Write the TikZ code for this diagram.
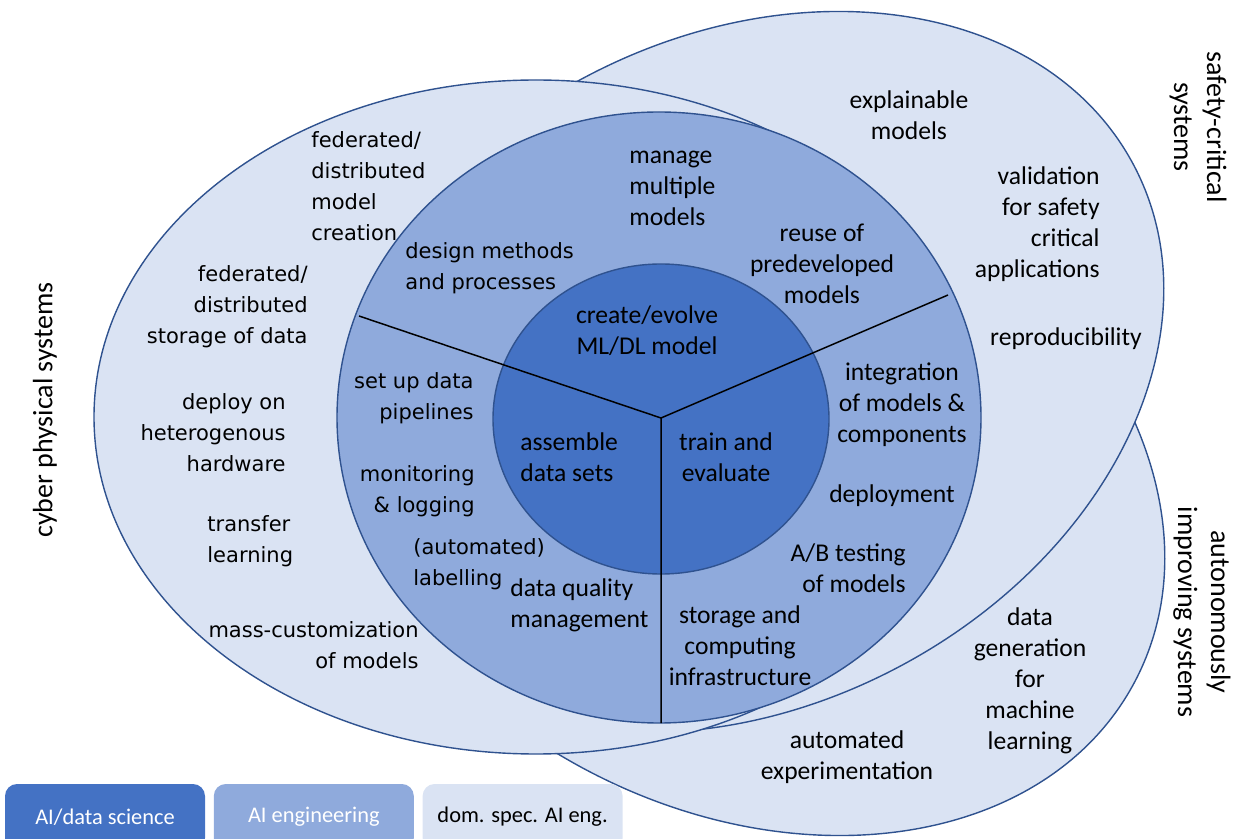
\documentclass[tikz,border=0pt]{standalone}
\usepackage{fontspec}
\setmainfont{Carlito}
\newfontfamily\widefont{DejaVu Sans}
\usetikzlibrary{positioning}

\definecolor{dsblue}{HTML}{4472C4}
\definecolor{engblue}{HTML}{8FAADC}
\definecolor{domblue}{HTML}{DAE3F3}
\definecolor{rimblue}{HTML}{2F528F}

\begin{document}
\begin{tikzpicture}[x=0.5pt,y=-0.5pt]
\tikzstyle{zone}=[draw=rimblue,line width=0.7pt]
\tikzstyle{txt}=[inner sep=0pt,align=center,font=\fontsize{12.8}{15.5}\selectfont]
\tikzstyle{wtxt}=[inner sep=0pt,align=center,font=\widefont\fontsize{10.5}{15.5}\selectfont]
\tikzstyle{side}=[inner sep=0pt,align=center,font=\fontsize{14}{16.5}\selectfont]
\tikzstyle{legbox}=[rounded corners=6pt,minimum width=100pt,minimum height=33pt,
  inner sep=0pt,font=\fontsize{11.2}{13}\selectfont]

\useasboundingbox (0,0) rectangle (1238,839);
\clip (0,0) rectangle (1238,839);

%% Domain specific ellipses
\draw[zone,fill=domblue,rotate around={-27.8:(743,475)}] (743,475)
    ellipse [x radius=221.5pt,y radius=167pt];
\draw[zone,fill=domblue,rotate around={27.8:(742,372)}] (742,372)
    ellipse [x radius=221.5pt,y radius=167pt];
\draw[zone,fill=domblue] (536,417) ellipse [x radius=221pt,y radius=168.5pt];

%% AI engineering and AI/data science
\draw[zone,fill=engblue] (659,417.5) ellipse [x radius=161pt,y radius=152.75pt];
\draw[zone,fill=dsblue] (661,419) ellipse [x radius=84pt,y radius=77.5pt];

% Sector borders
\coordinate (hub) at (661,418);
\coordinate (cutL) at (359,316);
\coordinate (cutR) at (948,295);
\coordinate (cutB) at (661,723);
\draw[line width=0.75pt] (cutL) -- (hub) -- (cutR) (hub) -- (cutB);

%% Inner circle
\node[txt] (create) at (647,331) {create/evolve\\ML/DL model};
\node[txt,anchor=west,align=left] (assemble) at (520,457.5) {assemble\\data sets};
\node[txt] (train) at (726,457.5) {train and\\evaluate};

%% AI engineering ring
\node[txt,anchor=west,align=left] (manage) at (629,188) {manage\\multiple\\models};
\node[txt] (reuse) at (822,264) {reuse of\\predeveloped\\models};
\node[wtxt,anchor=west,align=left] (design) at (405,268) {design methods\\and processes};
\node[wtxt,anchor=east,align=right] (pipes) at (474,398.5) {set up data\\pipelines};
\node[wtxt,anchor=east,align=right] (monitor) at (475,491.5) {monitoring\\\& logging};
\node[wtxt,anchor=west,align=left] (labels) at (413,564) {(automated)\\labelling};
\node[txt,anchor=west,align=left] (quality) at (510,605) {data quality\\management};
\node[txt] (infra) at (740,646) {storage and\\computing\\infrastructure};
\node[txt,anchor=east,align=right] (abtest) at (906,568) {A/B testing\\of models};
\node[txt] (deploy) at (892,496) {deployment};
\node[txt] (integr) at (902,405) {integration\\of models \&\\components};

%% Cyber physical systems
\node[wtxt,anchor=west,align=left] (fedmodel) at (311,186.5)
    {federated/\\distributed\\model\\creation};
\node[wtxt,anchor=east,align=right] (feddata) at (308,306.5)
    {federated/\\distributed\\storage of data};
\node[wtxt,anchor=east,align=right] (hetero) at (286,433)
    {deploy on\\heterogenous\\hardware};
\node[wtxt,anchor=west,align=left] (transfer) at (207,541.5) {transfer\\learning};
\node[wtxt,anchor=east,align=right] (masscust) at (419,645)
    {mass-customization\\of models};

%% Safety-critical systems
\node[txt] (explain) at (909,115) {explainable\\models};
\node[txt,anchor=east,align=right] (valid) at (1100,224)
    {validation\\for safety\\critical\\applications};
\node[txt] (repro) at (1066,339) {reproducibility};

%% Autonomously improving systems
\node[txt] (autoexp) at (847,757.5) {automated\\experimentation};
\node[txt] (datagen) at (1030,680.5) {data\\generation\\for\\machine\\learning};

% Domain names
\node[side,rotate=90] (cps) at (45,410) {cyber physical systems};
\node[side,rotate=-90] (safety) at (1198,127) {safety-critical\\systems};
\node[side,rotate=-90] (autonom) at (1202,612) {autonomously\\improving systems};

%% Legend
\node[legbox,fill=dsblue,text=white] (legds) at (105,817) {AI/data science};
\node[legbox,fill=engblue,text=white,right=4pt of legds] (legeng) {AI engineering};
\node[legbox,fill=domblue,right=4pt of legeng] (legdom) {dom. spec. AI eng.};
\end{tikzpicture}
\end{document}
